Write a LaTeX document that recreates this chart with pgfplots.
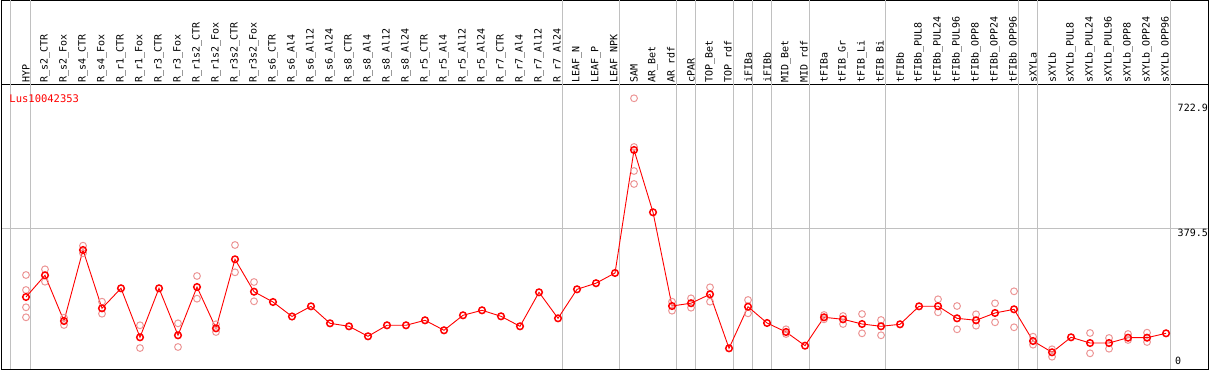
\documentclass[border=0pt]{standalone}
\usepackage{pgfplots}
\pgfplotsset{compat=1.18}
\usepackage{pgfplotstable}
\usepackage{fontspec}
\newfontfamily\monofont{DejaVu Sans Mono}
\definecolor{gridgray}{RGB}{192,192,192}
\definecolor{reppink}{RGB}{236,150,150}

\pgfplotstableread{
x y
1 191.0
2 250.5
3 125.2
4 319.8
5 160.0
6 214.9
7 80.6
8 214.9
9 86.1
10 218.4
11 105.2
12 294.3
13 205.5
14 177.3
15 137.6
16 165.5
17 118.9
18 110.7
19 83.3
20 113.5
21 113.5
22 127.2
23 99.8
24 140.9
25 154.6
26 138.1
27 110.7
28 203.9
29 132.6
30 212.1
31 228.8
32 256.8
33 593.9
34 423.1
35 166.3
36 174.0
37 198.4
38 50.4
39 164.4
40 119.8
41 95.1
42 57.6
43 135.4
44 129.9
45 117.0
46 110.7
47 116.2
48 165.5
49 165.8
50 132.6
51 127.2
52 147.2
53 157.3
54 70.4
55 39.5
56 80.6
57 64.9
58 64.9
59 79.5
60 79.5
61 91.5
}\meantable

\pgfplotstableread{
x y
1 251.3
1 210.2
1 162.8
1 135.4
2 266.9
2 232.9
3 134.3
3 114.3
4 331.6
4 310.8
5 178.1
5 145.2
7 113.5
7 51.2
9 118.9
9 54.0
10 248.6
10 186.4
11 116.2
11 95.1
12 333.5
12 258.7
13 232.1
13 179.2
33 735.6
33 602.1
33 536.3
33 500.7
35 178.1
35 153.5
36 187.4
36 161.7
37 217.6
37 178.1
39 182.8
39 146.3
41 102.5
41 89.6
43 141.7
43 129.9
44 138.9
44 117.0
45 144.4
45 91.5
46 128.0
46 86.1
49 184.7
49 149.1
50 166.3
50 102.5
51 143.6
51 112.4
52 173.7
52 121.7
53 206.6
53 108.0
54 82.2
54 60.3
55 47.7
55 27.4
57 92.4
57 36.7
58 78.7
58 49.3
59 89.6
59 73.2
60 93.2
60 67.7
}\reptable

\begin{document}
\begin{tikzpicture}
\useasboundingbox (0,0) rectangle (1209bp,370bp);
% main plot area
\begin{axis}[
  at={(1.5bp,1bp)}, anchor=south west,
  scale only axis, width=1206.5bp, height=284bp,
  xmin=-0.289, xmax=63.21, ymin=-6.3, ymax=772,
  axis line style={line width=1bp, black},
  xtick={0.16,1.24,29.24,32.24,35.24,36.24,38.24,39.24,40.24,42.24,46.24,53.24,54.24,61.24},
  xticklabels={}, ytick={379.5}, yticklabels={},
  xmajorgrids, ymajorgrids,
  grid style={gridgray, line width=1bp},
  major tick length=0pt,
  clip=false,
]
\addplot[only marks, mark=o, mark size=3.4bp, reppink, mark options={line width=1bp}] table[x=x,y=y] {\reptable};
\addplot[red, line width=0.9bp, mark=o, mark size=3.3bp, mark options={line width=1.5bp, draw=red}] table[x=x,y=y] {\meantable};
\node[anchor=north east, inner sep=0pt, font=\monofont\fontsize{10bp}{12bp}\selectfont] at (axis cs:63.21,720.5) {722.9};
\node[anchor=north east, inner sep=0pt, font=\monofont\fontsize{10bp}{12bp}\selectfont] at (axis cs:63.21,377) {379.5};
\node[anchor=south east, inner sep=0pt, font=\monofont\fontsize{10bp}{12bp}\selectfont] at (axis cs:61.8,4) {0};
\node[anchor=base west, inner sep=0pt, text=red, font=\monofont\fontsize{10.5bp}{12bp}\selectfont] at (axis cs:0.12,723) {Lus10042353};
\end{axis}
% label area
\begin{axis}[
  at={(1.5bp,285bp)}, anchor=south west,
  scale only axis, width=1206.5bp, height=84.5bp,
  xmin=-0.289, xmax=63.21, ymin=0, ymax=1,
  axis line style={line width=1bp, black},
  xtick={1,...,61},
  xticklabels={HYP,R\_s2\_CTR,R\_s2\_Fox,R\_s4\_CTR,R\_s4\_Fox,R\_r1\_CTR,R\_r1\_Fox,R\_r3\_CTR,R\_r3\_Fox,R\_r1s2\_CTR,R\_r1s2\_Fox,R\_r3s2\_CTR,R\_r3s2\_Fox,R\_s6\_CTR,R\_s6\_Al4,R\_s6\_Al12,R\_s6\_Al24,R\_s8\_CTR,R\_s8\_Al4,R\_s8\_Al12,R\_s8\_Al24,R\_r5\_CTR,R\_r5\_Al4,R\_r5\_Al12,R\_r5\_Al24,R\_r7\_CTR,R\_r7\_Al4,R\_r7\_Al12,R\_r7\_Al24,LEAF\_N,LEAF\_P,LEAF\_NPK,SAM,AR\_Bet,AR\_rdf,cPAR,TOP\_Bet,TOP\_rdf,iFIBa,iFIBb,MID\_Bet,MID\_rdf,tFIBa,tFIB\_Gr,tFIB\_Li,tFIB\_Bi,tFIBb,tFIBb\_PUL8,tFIBb\_PUL24,tFIBb\_PUL96,tFIBb\_OPP8,tFIBb\_OPP24,tFIBb\_OPP96,sXYLa,sXYLb,sXYLb\_PUL8,sXYLb\_PUL24,sXYLb\_PUL96,sXYLb\_OPP8,sXYLb\_OPP24,sXYLb\_OPP96},
  xticklabel style={rotate=90, anchor=west, inner sep=0pt, font=\monofont\fontsize{10bp}{12bp}\selectfont},
  xticklabel shift={-2.5bp},
  extra x ticks={0.16,1.24,29.24,32.24,35.24,36.24,38.24,39.24,40.24,42.24,46.24,53.24,54.24,61.24},
  extra x tick labels={},
  extra x tick style={xmajorgrids=true},
  grid style={gridgray, line width=1bp},
  ytick=\empty,
  major tick length=0pt,
]
\end{axis}
\end{tikzpicture}
\end{document}
